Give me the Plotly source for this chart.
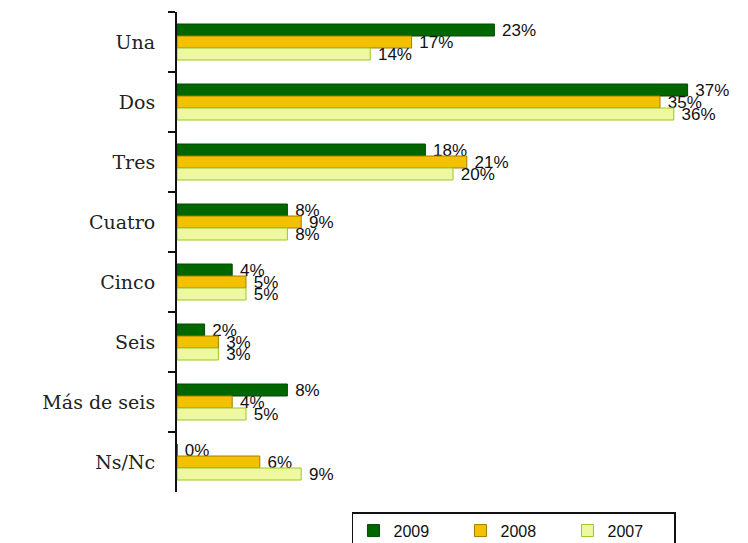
import plotly.graph_objects as go

categories = ["Una", "Dos", "Tres", "Cuatro", "Cinco", "Seis", "Más de seis", "Ns/Nc"]
v2009 = [23, 37, 18, 8, 4, 2, 8, 0]
v2008 = [17, 35, 21, 9, 5, 3, 4, 6]
v2007 = [14, 36, 20, 8, 5, 3, 5, 9]

series = [
    ("2009", v2009, "#006600", "#004d00"),
    ("2008", v2008, "#F2C100", "#A87C00"),
    ("2007", v2007, "#EEF8A0", "#9CC820"),
]

fig = go.Figure()
for name, vals, col, line in series:
    fig.add_trace(go.Bar(
        y=categories, x=vals, name=name, orientation="h",
        marker=dict(color=col, line=dict(color=line, width=1)),
        text=[f" {v}%" for v in vals], textposition="outside",
        constraintext="none",
        textfont=dict(family="Liberation Sans, Arial", size=17, color="#111"),
        cliponaxis=False,
    ))

fig.update_layout(
    width=740, height=535,
    margin=dict(l=169, r=19, t=4, b=51, autoexpand=False),
    barmode="group", bargap=0.4, bargroupgap=0,
    plot_bgcolor="white", paper_bgcolor="white",
    showlegend=True,
    legend=dict(
        orientation="h", x=0.317, y=-0.042, xanchor="left", yanchor="top",
        bordercolor="#111", borderwidth=1.5,
        entrywidth=62, entrywidthmode="pixels",
        font=dict(family="Liberation Sans, Arial", size=16, color="#111"),
        traceorder="normal",
    ),
)
fig.update_xaxes(range=[0, 40], visible=False)
fig.update_yaxes(
    autorange="reversed", showline=True, linecolor="#111", linewidth=2,
    ticks="outside", tickson="boundaries", ticklen=7, tickcolor="#111", tickwidth=2,
    ticklabelstandoff=16,
    tickfont=dict(family="DejaVu Serif, Liberation Serif, serif", size=19, color="#222"),
    showgrid=False,
)
fig.write_html("out.html")
